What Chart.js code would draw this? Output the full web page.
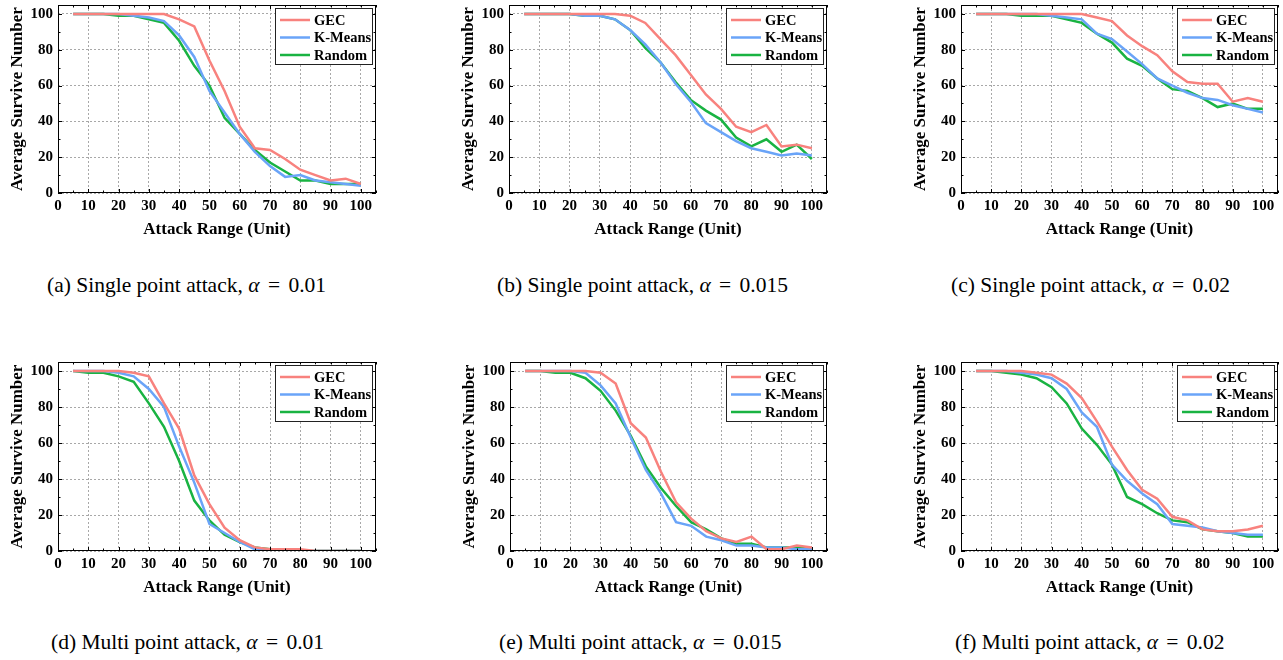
<!DOCTYPE html>
<html>
<head>
<meta charset="utf-8">
<script src="https://cdn.jsdelivr.net/npm/chart.js@4.4.0/dist/chart.umd.min.js"></script>
<style>
  html, body { margin: 0; padding: 0; background: #fff; }
  #fig { position: relative; width: 1283px; height: 660px; overflow: hidden; }
  #fig canvas { position: absolute; }
  .cap { position: absolute; font-family: "Liberation Serif", "Times New Roman", serif; font-size: 21.5px; line-height: 21.5px; white-space: nowrap; color: #000; }
  .cap i { font-style: italic; }
  .cap .eq { margin: 0 3px; }
</style>
</head>
<body>
<div id="fig"></div>
<script>
// attack range (unit)
const xValues = [5, 10, 15, 20, 25, 30, 35, 40, 45, 50, 55, 60, 65, 70, 75, 80, 85, 90, 95, 100];
const xTicks = [0, 10, 20, 30, 40, 50, 60, 70, 80, 90, 100];
const yTicks = [0, 20, 40, 60, 80, 100];

const seriesNames = ['GEC', 'K-Means', 'Random'];
const seriesColors = ['#F8827E', '#6AA4F8', '#19B342'];

// (a) single point, alpha 0.01
const gecA = [100, 100, 100, 100, 100, 100, 100, 97, 93, 74, 57, 37, 25, 24, 19, 13, 10, 7, 8, 5];
const kmeansA = [100, 100, 100, 100, 99, 98, 96, 88, 76, 57, 45, 33, 23, 15, 9, 10, 7, 6, 5, 4];
const randomA = [100, 100, 100, 99, 99, 97, 95, 85, 71, 60, 42, 33, 24, 17, 12, 7, 7, 5, 5, 5];
// (b) single point, alpha 0.015
const gecB = [100, 100, 100, 100, 100, 100, 100, 99, 95, 86, 77, 66, 55, 47, 37, 34, 38, 26, 27, 25];
const kmeansB = [100, 100, 100, 100, 99, 99, 97, 91, 83, 73, 61, 51, 39, 34, 29, 25, 23, 21, 22, 21];
const randomB = [100, 100, 100, 100, 99, 99, 97, 91, 81, 73, 62, 52, 46, 41, 31, 26, 30, 23, 27, 19];
// (c) single point, alpha 0.02
const gecC = [100, 100, 100, 100, 100, 100, 100, 100, 98, 96, 88, 82, 77, 68, 62, 61, 61, 51, 53, 51];
const kmeansC = [100, 100, 100, 100, 100, 99, 98, 97, 89, 86, 79, 72, 64, 60, 56, 53, 52, 49, 47, 45];
const randomC = [100, 100, 100, 99, 99, 99, 97, 95, 89, 84, 75, 71, 64, 58, 57, 53, 48, 50, 47, 47];
// (d) multi point, alpha 0.01
const gecD = [100, 100, 100, 100, 99, 97, 82, 68, 42, 26, 13, 6, 2, 1, 1, 1, 0, 0, 0, 0];
const kmeansD = [100, 100, 100, 99, 97, 90, 80, 58, 38, 15, 10, 5, 1, 0, 0, 0, 0, 0, 0, 0];
const randomD = [100, 99, 99, 97, 94, 82, 69, 50, 28, 17, 9, 5, 2, 1, 1, 0, 0, 0, 0, 0];
// (e) multi point, alpha 0.015
const gecE = [100, 100, 100, 100, 100, 99, 93, 71, 63, 44, 27, 18, 11, 7, 5, 8, 1, 1, 3, 2];
const kmeansE = [100, 100, 100, 100, 99, 92, 82, 63, 45, 32, 16, 14, 8, 6, 3, 3, 2, 2, 1, 1];
const randomE = [100, 100, 99, 99, 96, 89, 78, 64, 47, 35, 25, 16, 12, 7, 4, 4, 2, 2, 2, 1];
// (f) multi point, alpha 0.02
const gecF = [100, 100, 100, 100, 99, 98, 93, 85, 72, 58, 45, 34, 29, 19, 17, 12, 11, 11, 12, 14];
const kmeansF = [100, 100, 100, 99, 98, 96, 90, 77, 69, 48, 39, 32, 26, 15, 14, 13, 11, 10, 9, 9];
const randomF = [100, 100, 99, 98, 96, 91, 82, 68, 59, 48, 30, 26, 21, 17, 16, 12, 11, 10, 8, 8];

const panels = [
  { series: [gecA, kmeansA, randomA], left: 58, right: 376, top: 5, bottom: 193, cap: '(a) Single point attack, <i>α</i> <span class="eq">=</span> 0.01', capX: 47, capTop: 275 },
  { series: [gecB, kmeansB, randomB], left: 509, right: 827, top: 5, bottom: 193, cap: '(b) Single point attack, <i>α</i> <span class="eq">=</span> 0.015', capX: 497, capTop: 275 },
  { series: [gecC, kmeansC, randomC], left: 961, right: 1278, top: 5, bottom: 193, cap: '(c) Single point attack, <i>α</i> <span class="eq">=</span> 0.02', capX: 951, capTop: 275 },
  { series: [gecD, kmeansD, randomD], left: 58, right: 376, top: 362, bottom: 551, cap: '(d) Multi point attack, <i>α</i> <span class="eq">=</span> 0.01', capX: 51, capTop: 632 },
  { series: [gecE, kmeansE, randomE], left: 510, right: 827, top: 362, bottom: 551, cap: '(e) Multi point attack, <i>α</i> <span class="eq">=</span> 0.015', capX: 499, capTop: 632 },
  { series: [gecF, kmeansF, randomF], left: 961, right: 1278, top: 362, bottom: 551, cap: '(f) Multi point attack, <i>α</i> <span class="eq">=</span> 0.02', capX: 955, capTop: 632 }
];

const FONT = '"Liberation Serif", "Times New Roman", serif';
const Y_AXIS_W = 58;
const X_AXIS_H = 47;

// frame with inward ticks on all four sides, then the legend box
const framePlugin = {
  id: 'frame',
  afterDatasetsDraw(chart) {
    const { ctx, chartArea: a, scales: { x, y } } = chart;
    ctx.save();
    ctx.strokeStyle = '#000';
    ctx.lineWidth = 1;
    ctx.strokeRect(a.left + 0.5, a.top + 0.5, a.right - a.left - 1, a.bottom - a.top - 1);
    ctx.beginPath();
    xTicks.forEach((v) => {
      [v, v + 5].forEach((t, k) => {
        if (t > x.max) return;
        const px = Math.round(x.getPixelForValue(t)) + 0.5;
        const len = k === 0 ? 4 : 2.5;
        ctx.moveTo(px, a.bottom); ctx.lineTo(px, a.bottom - len);
        ctx.moveTo(px, a.top); ctx.lineTo(px, a.top + len);
      });
    });
    yTicks.forEach((v) => {
      [v, v + 10].forEach((t, k) => {
        if (t > y.max) return;
        const py = Math.round(y.getPixelForValue(t)) + 0.5;
        const len = k === 0 ? 4 : 2.5;
        ctx.moveTo(a.left, py); ctx.lineTo(a.left + len, py);
        ctx.moveTo(a.right, py); ctx.lineTo(a.right - len, py);
      });
    });
    ctx.stroke();

    // legend
    const bw = 97, bh = 56;
    const bx = a.right - 4 - bw, by = a.top + 2.5;
    ctx.fillStyle = '#fff';
    ctx.fillRect(bx, by, bw, bh);
    ctx.strokeStyle = '#222';
    ctx.strokeRect(Math.round(bx) + 0.5, Math.round(by) + 0.5, bw, bh);
    ctx.font = 'bold 14.5px ' + FONT;
    ctx.textBaseline = 'middle';
    chart.data.datasets.forEach((ds, i) => {
      const cy = by + 12.5 + i * 17.5;
      ctx.strokeStyle = ds.borderColor;
      ctx.lineWidth = 2.5;
      ctx.beginPath();
      ctx.moveTo(bx + 5, cy); ctx.lineTo(bx + 35, cy);
      ctx.stroke();
      ctx.fillStyle = '#000';
      ctx.fillText(ds.label, bx + 39, cy + 1);
    });
    ctx.restore();
  }
};

const fig = document.getElementById('fig');

panels.forEach((p) => {
  const canvas = document.createElement('canvas');
  const cw = p.right - p.left + Y_AXIS_W + 4;
  const ch = 5 + (p.bottom - p.top) + X_AXIS_H;
  canvas.width = cw;
  canvas.height = ch;
  canvas.style.left = (p.left - Y_AXIS_W) + 'px';
  canvas.style.top = (p.top - 5) + 'px';
  canvas.style.width = cw + 'px';
  canvas.style.height = ch + 'px';
  fig.appendChild(canvas);

  new Chart(canvas.getContext('2d'), {
    type: 'line',
    data: {
      datasets: p.series.map((vals, i) => ({
        label: seriesNames[i],
        data: xValues.map((x, j) => ({ x: x, y: vals[j] })),
        borderColor: seriesColors[i],
        borderWidth: 2.5,
        pointRadius: 0,
        tension: 0,
        fill: false
      }))
    },
    options: {
      responsive: false,
      animation: false,
      devicePixelRatio: 1,
      layout: { padding: { left: 0, right: 4, top: 5, bottom: 0 } },
      plugins: { legend: { display: false }, tooltip: { enabled: false } },
      scales: {
        x: {
          type: 'linear',
          min: 0,
          max: 105,
          afterBuildTicks: (s) => { s.ticks = xTicks.map((v) => ({ value: v })); },
          afterFit: (s) => { s.height = X_AXIS_H; s.paddingLeft = 0; s.paddingRight = 0; },
          grid: { color: '#a8a8a8', lineWidth: 1, drawTicks: false },
          border: { display: false, dash: [2, 2] },
          ticks: { color: '#000', padding: 4, maxRotation: 0, autoSkip: false, font: { family: FONT, size: 15, weight: 'bold' } },
          title: { display: true, text: 'Attack Range (Unit)', color: '#000', padding: { top: 0, bottom: 1.5 }, font: { family: FONT, size: 17, weight: 'bold', lineHeight: 1 } }
        },
        y: {
          min: 0,
          max: 105,
          afterBuildTicks: (s) => { s.ticks = yTicks.map((v) => ({ value: v })); },
          afterFit: (s) => { s.width = Y_AXIS_W; s.paddingTop = 0; s.paddingBottom = 0; },
          grid: { color: '#a8a8a8', lineWidth: 1, drawTicks: false },
          border: { display: false, dash: [2, 2] },
          ticks: { color: '#000', padding: 5, autoSkip: false, font: { family: FONT, size: 15, weight: 'bold' } },
          title: { display: true, text: 'Average Survive Number', color: '#000', padding: { top: 9.5, bottom: 0 }, font: { family: FONT, size: 17, weight: 'bold', lineHeight: 1 } }
        }
      }
    },
    plugins: [framePlugin]
  });

  const cap = document.createElement('div');
  cap.className = 'cap';
  cap.style.left = p.capX + 'px';
  cap.style.top = p.capTop + 'px';
  cap.innerHTML = p.cap;
  fig.appendChild(cap);
});
</script>
</body>
</html>
